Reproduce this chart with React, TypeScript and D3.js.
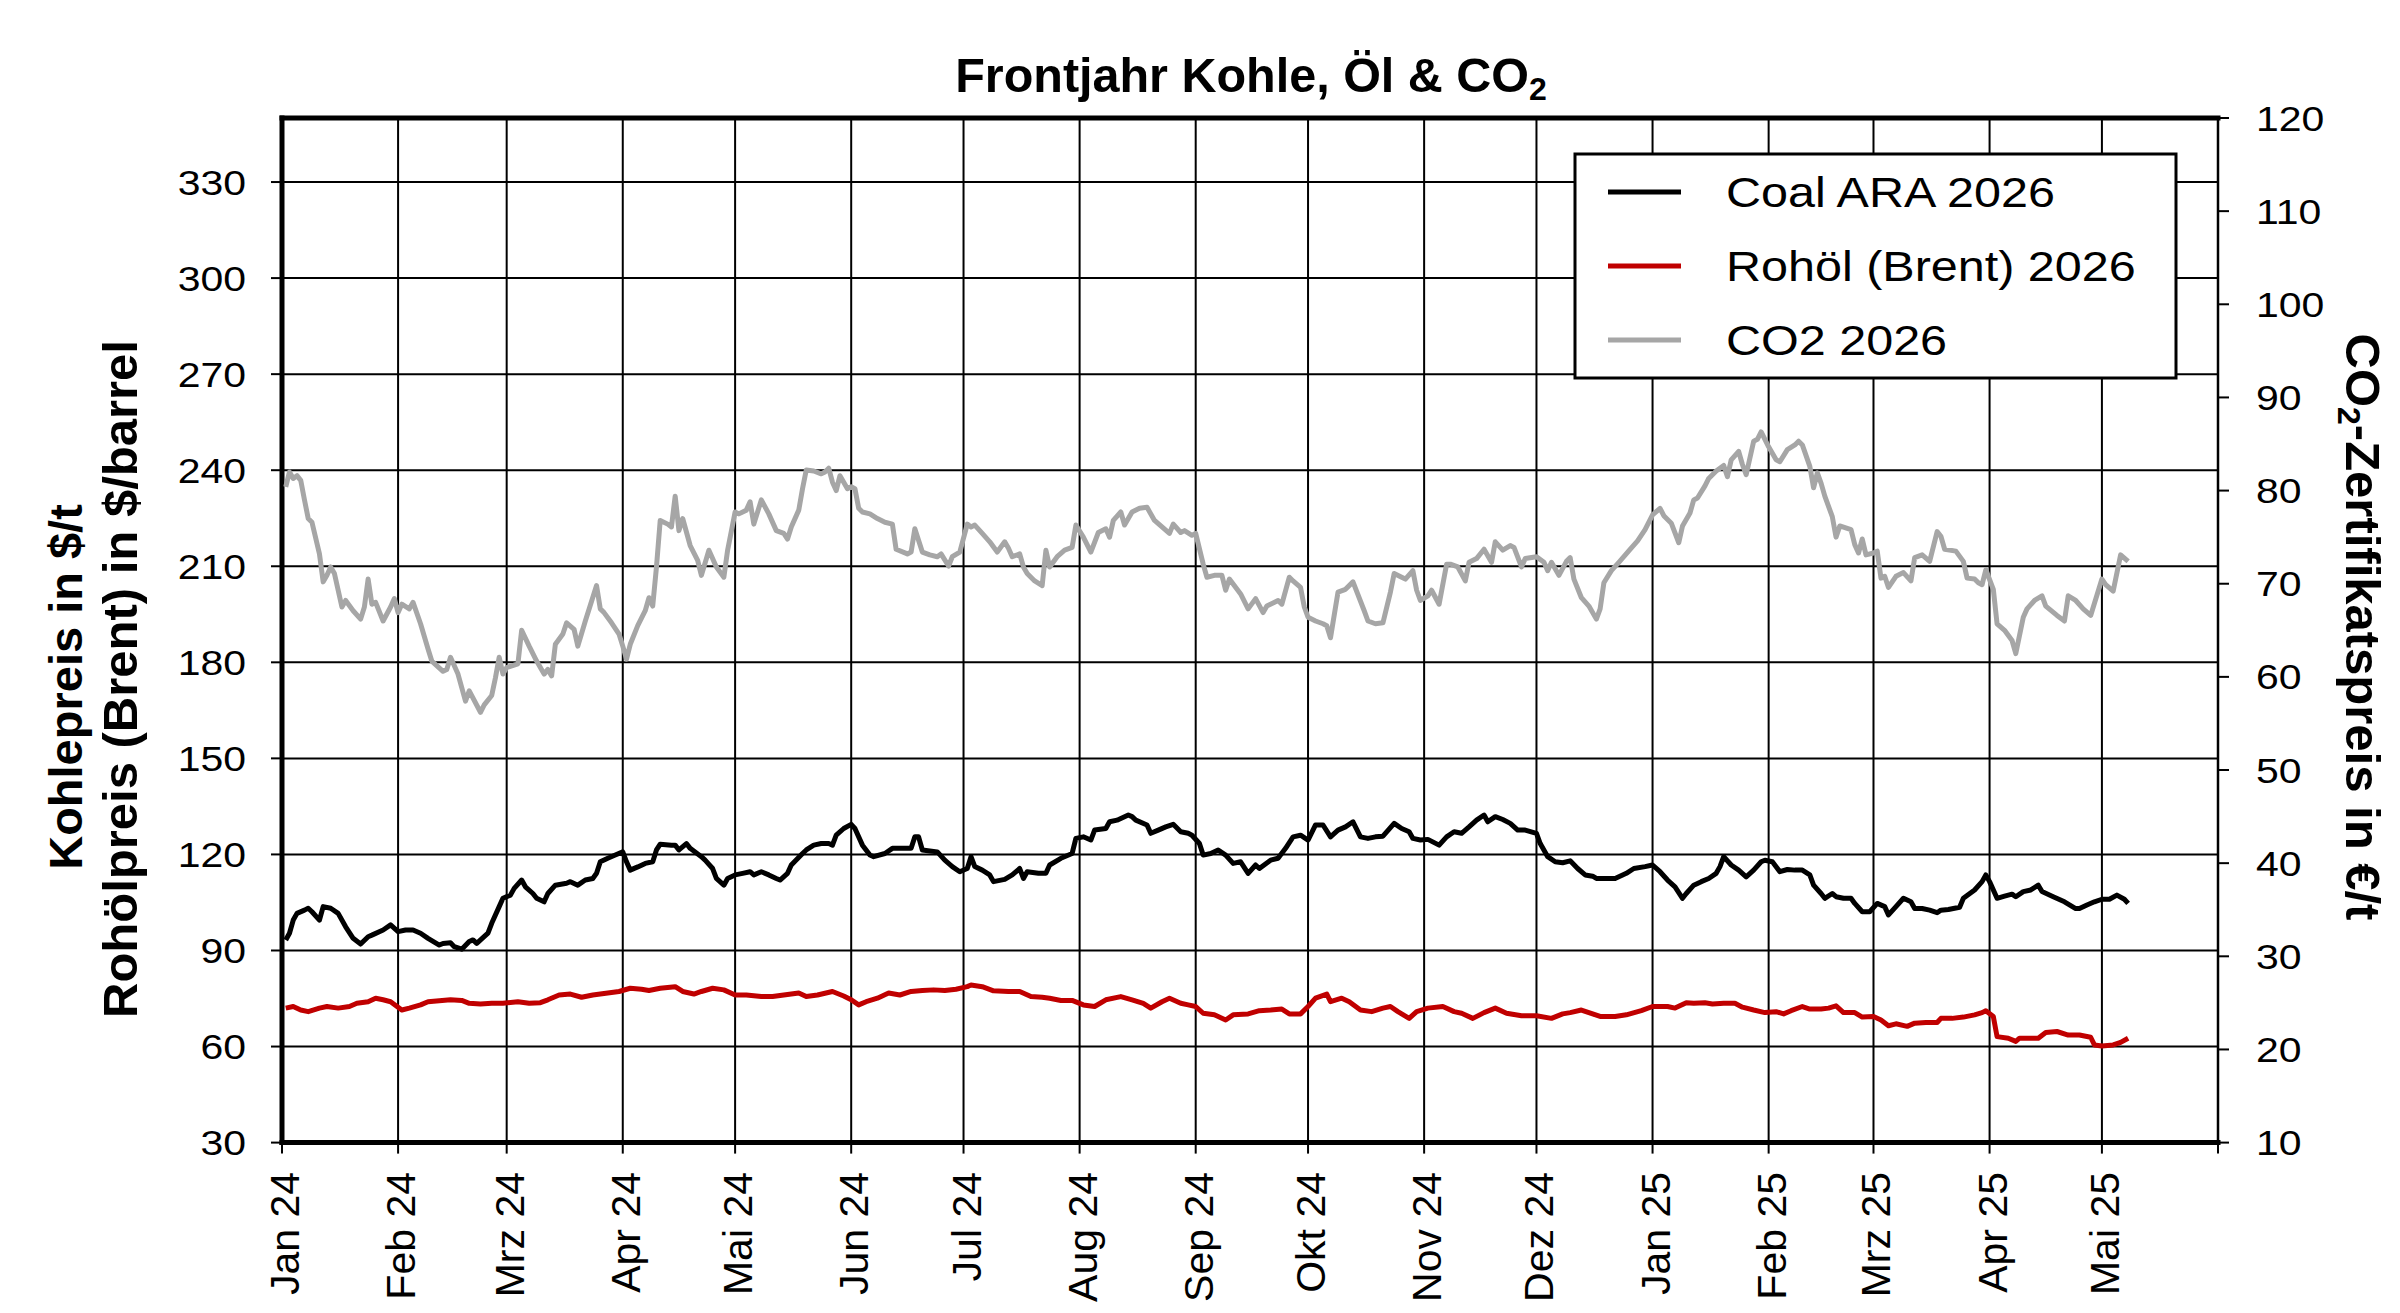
import { useEffect, useRef } from 'react';
import * as d3 from 'd3';

// Achsen & Beschriftungen
const monthLabels = [
  'Jan 24', 'Feb 24', 'Mrz 24', 'Apr 24', 'Mai 24', 'Jun 24', 'Jul 24', 'Aug 24', 'Sep 24',
  'Okt 24', 'Nov 24', 'Dez 24', 'Jan 25', 'Feb 25', 'Mrz 25', 'Apr 25', 'Mai 25', '',
];
const leftTicks = [30, 60, 90, 120, 150, 180, 210, 240, 270, 300, 330];
const rightTicks = [10, 20, 30, 40, 50, 60, 70, 80, 90, 100, 110, 120];
const seriesNames = ['Coal ARA 2026', 'Rohöl (Brent) 2026', 'CO2 2026'];

// [Tage seit 01.01.2024, Wert]
const coal: [number, number][] = [
  [1, 93.3], [2, 95.4], [3, 99.5], [4, 101.6], [6, 102.6], [7, 103.2], [8, 102.1], [10, 99.5], [11, 103.7], [13, 103.2],
  [15, 101.6], [17, 97.4], [19, 93.8], [21, 92.0], [23, 94.3], [24, 94.8], [27, 96.4], [29, 98.0], [31, 95.9], [33, 96.4],
  [35, 96.4], [37, 95.4], [39, 93.8], [42, 91.7], [43, 92.2], [45, 92.4], [46, 91.2], [48, 90.4], [50, 92.8], [51, 93.3],
  [52, 92.2], [55, 95.4], [56, 98.5], [58, 103.7], [59, 106.3], [61, 107.3], [62, 109.4], [64, 112.0], [65, 109.9], [67, 107.8],
  [68, 106.3], [70, 105.2], [71, 107.8], [73, 110.4], [76, 111.0], [77, 111.5], [79, 110.4], [81, 112.0], [83, 112.5], [84, 114.1],
  [85, 117.7], [87, 118.8], [89, 119.8], [91, 120.8], [92, 117.7], [93, 115.1], [95, 116.1], [97, 117.2], [99, 117.7], [100, 121.4],
  [101, 123.2], [104, 122.9], [105, 122.9], [106, 121.4], [108, 123.4], [109, 121.9], [112, 119.3], [113, 118.2], [115, 115.6], [116, 112.5],
  [118, 110.4], [119, 112.5], [121, 113.6], [123, 114.1], [125, 114.6], [126, 113.6], [128, 114.6], [130, 113.6], [132, 112.5], [133, 112.0],
  [135, 114.1], [136, 116.7], [139, 120.3], [140, 121.4], [142, 122.9], [144, 123.4], [146, 123.4], [147, 122.9], [148, 126.0], [150, 128.1],
  [152, 129.4], [153, 128.1], [155, 122.9], [157, 119.8], [158, 119.3], [161, 120.3], [163, 121.9], [165, 121.9], [166, 121.9], [168, 121.9],
  [169, 125.5], [170, 125.5], [171, 121.4], [173, 121.1], [175, 120.8], [177, 118.2], [179, 116.2], [181, 114.6], [183, 115.6], [184, 119.3],
  [185, 116.2], [187, 115.1], [189, 113.6], [190, 111.5], [193, 112.2], [195, 113.6], [197, 115.6], [198, 112.5], [199, 114.6], [202, 114.1],
  [204, 114.1], [205, 116.7], [208, 118.8], [211, 120.3], [212, 125.0], [214, 125.5], [216, 124.5], [217, 127.6], [220, 128.1], [221, 130.2],
  [223, 130.7], [226, 132.3], [227, 131.8], [228, 130.7], [231, 129.2], [232, 126.6], [234, 127.6], [236, 128.6], [238, 129.4], [240, 127.1],
  [242, 126.6], [243, 126.0], [245, 123.4], [246, 119.8], [248, 120.3], [250, 121.4], [252, 119.8], [254, 117.2], [256, 117.7], [258, 114.1],
  [260, 116.7], [261, 115.6], [264, 118.2], [266, 118.8], [268, 121.9], [270, 125.5], [272, 126.0], [274, 124.5], [276, 129.2], [278, 129.2],
  [280, 125.5], [282, 127.6], [284, 128.6], [286, 130.2], [288, 125.5], [290, 125.0], [292, 125.5], [294, 125.7], [297, 129.7], [299, 128.1],
  [301, 127.1], [302, 125.0], [304, 124.5], [306, 124.7], [309, 122.9], [311, 125.5], [313, 127.1], [315, 126.6], [317, 128.6], [319, 130.7],
  [321, 132.3], [322, 130.2], [324, 131.8], [326, 130.9], [328, 129.7], [330, 127.6], [332, 127.6], [335, 126.6], [336, 123.4], [338, 119.3],
  [340, 117.7], [342, 117.4], [344, 118.0], [346, 115.6], [348, 113.6], [350, 113.2], [351, 112.5], [354, 112.5], [356, 112.5], [359, 114.1],
  [361, 115.6], [364, 116.2], [366, 116.7], [368, 114.6], [370, 112.0], [372, 109.9], [374, 106.3], [375, 107.8], [377, 110.4], [379, 111.5],
  [381, 112.5], [383, 114.1], [384, 116.2], [385, 119.3], [387, 116.7], [389, 115.1], [391, 113.0], [393, 115.1], [395, 117.7], [396, 118.2],
  [398, 117.7], [400, 114.6], [402, 115.3], [404, 115.1], [406, 115.1], [408, 113.6], [409, 110.4], [411, 107.8], [412, 106.3], [414, 107.8],
  [415, 106.8], [417, 106.3], [419, 106.3], [420, 104.7], [422, 102.1], [424, 102.1], [426, 104.7], [428, 103.7], [429, 101.1], [431, 103.7],
  [433, 106.3], [435, 105.2], [436, 103.1], [438, 103.1], [440, 102.6], [442, 101.8], [443, 102.6], [445, 102.8], [448, 103.5], [449, 106.3],
  [452, 108.9], [454, 111.5], [455, 113.6], [456, 111.5], [458, 106.3], [460, 107.0], [462, 107.6], [463, 106.8], [465, 108.4], [467, 108.9],
  [469, 110.4], [470, 108.4], [473, 106.8], [476, 105.2], [479, 103.1], [480, 103.1], [482, 104.2], [484, 105.2], [486, 106.0], [488, 106.0],
  [490, 107.3], [492, 106.0], [493, 104.7],
];

const oil: [number, number][] = [
  [1, 72.0], [3, 72.5], [5, 71.4], [7, 70.9], [10, 72.0], [12, 72.5], [15, 72.0], [18, 72.5], [20, 73.5], [23, 74.0],
  [25, 75.1], [27, 74.6], [29, 74.0], [32, 71.4], [34, 72.0], [37, 73.0], [39, 74.0], [42, 74.3], [45, 74.6], [48, 74.4],
  [50, 73.5], [53, 73.3], [56, 73.5], [59, 73.5], [63, 74.0], [66, 73.5], [69, 73.7], [71, 74.6], [74, 76.1], [77, 76.4],
  [80, 75.4], [83, 76.1], [87, 76.7], [90, 77.2], [93, 78.2], [96, 77.9], [98, 77.5], [101, 78.2], [105, 78.7], [107, 77.2],
  [110, 76.4], [112, 77.2], [115, 78.2], [118, 77.7], [121, 76.1], [124, 76.1], [128, 75.6], [131, 75.6], [134, 76.1], [138, 76.7],
  [140, 75.6], [143, 76.1], [147, 77.2], [150, 75.8], [152, 74.6], [154, 73.0], [156, 74.0], [159, 75.1], [162, 76.7], [165, 76.1],
  [168, 77.2], [171, 77.5], [174, 77.7], [177, 77.5], [180, 77.9], [183, 78.7], [184, 79.2], [187, 78.7], [190, 77.4], [194, 77.2],
  [197, 77.2], [200, 75.6], [203, 75.4], [205, 75.1], [208, 74.4], [211, 74.4], [214, 73.0], [217, 72.5], [220, 74.6], [224, 75.6],
  [227, 74.6], [230, 73.5], [232, 72.0], [235, 74.0], [237, 75.1], [240, 73.5], [242, 73.0], [244, 72.5], [246, 70.4], [249, 69.9],
  [252, 68.3], [254, 69.9], [258, 70.2], [261, 71.2], [264, 71.4], [267, 71.7], [269, 70.2], [272, 70.2], [274, 72.5], [276, 75.1],
  [279, 76.4], [280, 74.0], [283, 75.1], [285, 74.0], [288, 71.4], [291, 70.9], [294, 72.0], [296, 72.5], [298, 70.9], [301, 68.8],
  [303, 70.9], [306, 72.0], [310, 72.5], [313, 70.9], [315, 70.4], [318, 68.8], [321, 70.6], [324, 72.0], [327, 70.4], [331, 69.6],
  [335, 69.6], [339, 68.8], [342, 70.2], [344, 70.6], [347, 71.4], [349, 70.6], [352, 69.4], [356, 69.4], [359, 69.9], [363, 71.2],
  [366, 72.5], [370, 72.5], [372, 72.0], [375, 73.7], [377, 73.5], [380, 73.7], [382, 73.3], [385, 73.5], [388, 73.5], [390, 72.3],
  [393, 71.4], [396, 70.6], [399, 70.9], [401, 70.2], [403, 71.2], [406, 72.5], [408, 71.7], [411, 71.7], [413, 72.0], [415, 72.7],
  [417, 70.6], [420, 70.6], [422, 69.2], [425, 69.4], [427, 68.3], [429, 66.5], [431, 67.1], [434, 66.3], [436, 67.3], [439, 67.5],
  [442, 67.5], [443, 68.8], [446, 68.8], [449, 69.2], [452, 69.9], [454, 70.6], [455, 71.2], [457, 69.4], [458, 63.1], [461, 62.6],
  [463, 61.6], [464, 62.6], [466, 62.6], [469, 62.6], [471, 64.4], [474, 64.7], [477, 63.6], [480, 63.6], [483, 62.9], [484, 60.5],
  [486, 60.2], [489, 60.5], [491, 61.3], [493, 62.6],
];

const co2: [number, number][] = [
  [1, 80.4], [2, 82.0], [3, 81.3], [4, 81.6], [5, 81.1], [6, 79.0], [7, 77.0], [8, 76.6], [10, 73.2], [11, 70.2],
  [12, 70.9], [13, 71.8], [14, 71.1], [16, 67.5], [17, 68.2], [19, 67.1], [21, 66.2], [22, 67.5], [23, 70.5], [24, 67.8],
  [25, 68.0], [27, 66.0], [29, 67.5], [30, 68.4], [31, 66.9], [32, 67.8], [34, 67.3], [35, 68.0], [37, 65.7], [39, 63.0],
  [40, 61.7], [43, 60.6], [44, 60.8], [45, 62.1], [47, 60.3], [49, 57.4], [50, 58.5], [53, 56.2], [54, 57.0], [56, 58.0],
  [57, 59.9], [58, 62.1], [59, 60.3], [60, 61.0], [63, 61.4], [64, 65.0], [66, 63.3], [68, 61.7], [70, 60.3], [71, 60.8],
  [72, 60.1], [73, 63.5], [75, 64.6], [76, 65.8], [78, 65.1], [79, 63.3], [81, 66.0], [84, 69.8], [85, 67.3], [86, 66.9],
  [88, 65.8], [90, 64.6], [91, 63.3], [92, 61.9], [93, 63.5], [95, 65.5], [97, 67.1], [98, 68.5], [99, 67.6], [100, 71.8],
  [101, 76.8], [103, 76.4], [104, 76.1], [105, 79.4], [106, 75.7], [107, 77.0], [109, 74.1], [111, 72.5], [112, 70.9], [114, 73.6],
  [116, 71.8], [118, 70.7], [119, 73.6], [121, 77.7], [122, 77.5], [124, 77.9], [125, 78.8], [126, 76.4], [128, 79.0], [130, 77.5],
  [132, 75.7], [134, 75.4], [135, 74.8], [136, 76.1], [138, 77.9], [139, 80.2], [140, 82.2], [142, 82.1], [144, 81.8], [145, 82.0],
  [146, 82.4], [147, 80.9], [148, 80.0], [149, 81.6], [151, 80.2], [152, 80.4], [153, 80.2], [154, 78.1], [155, 77.7], [157, 77.5],
  [159, 77.0], [161, 76.6], [163, 76.4], [164, 73.7], [167, 73.2], [168, 73.4], [169, 75.9], [171, 73.4], [173, 73.1], [175, 72.9],
  [176, 73.2], [178, 71.9], [179, 72.9], [181, 73.4], [183, 76.4], [184, 76.1], [185, 76.3], [187, 75.4], [189, 74.5], [191, 73.4],
  [193, 74.5], [194, 73.8], [195, 72.9], [197, 73.2], [198, 71.8], [199, 71.1], [201, 70.3], [203, 69.8], [204, 73.6], [205, 71.8],
  [207, 72.9], [209, 73.6], [211, 73.9], [212, 76.3], [214, 75.0], [216, 73.4], [218, 75.5], [220, 75.9], [221, 75.0], [222, 76.8],
  [224, 77.7], [225, 76.3], [226, 77.0], [227, 77.7], [229, 78.1], [231, 78.2], [233, 76.8], [235, 76.1], [237, 75.4], [238, 76.4],
  [240, 75.5], [241, 75.7], [243, 75.2], [244, 75.4], [246, 72.1], [247, 70.7], [249, 70.9], [251, 70.9], [252, 69.3], [253, 70.5],
  [256, 68.9], [258, 67.3], [260, 68.4], [262, 66.9], [263, 67.6], [266, 68.2], [267, 67.8], [269, 70.7], [270, 70.3], [272, 69.6],
  [273, 67.5], [274, 66.4], [276, 66.0], [278, 65.7], [279, 65.5], [280, 64.2], [282, 69.1], [284, 69.4], [286, 70.2], [289, 67.1],
  [290, 66.0], [292, 65.7], [294, 65.8], [296, 69.1], [297, 71.1], [299, 70.7], [300, 70.5], [302, 71.4], [303, 69.3], [304, 68.2],
  [306, 68.7], [307, 69.3], [309, 67.8], [311, 72.1], [312, 72.1], [314, 71.8], [316, 70.3], [317, 72.3], [319, 72.7], [321, 73.7],
  [323, 72.3], [324, 74.5], [326, 73.6], [328, 74.1], [329, 73.9], [331, 71.8], [332, 72.7], [335, 72.9], [337, 72.3], [338, 71.4],
  [339, 72.3], [341, 70.9], [343, 72.4], [344, 72.8], [345, 70.5], [347, 68.5], [349, 67.6], [351, 66.2], [352, 67.3], [353, 70.1],
  [355, 71.4], [357, 72.3], [360, 73.7], [362, 74.6], [364, 75.8], [366, 77.4], [368, 78.1], [369, 77.3], [371, 76.5], [373, 74.4],
  [374, 76.2], [376, 77.6], [377, 79.0], [378, 79.2], [380, 80.5], [381, 81.3], [383, 82.1], [385, 82.7], [386, 81.5], [387, 83.3],
  [389, 84.2], [390, 82.8], [391, 81.7], [393, 85.3], [394, 85.5], [395, 86.3], [397, 84.7], [399, 83.3], [400, 83.1], [402, 84.4],
  [404, 84.9], [405, 85.3], [406, 84.9], [408, 82.6], [409, 80.3], [410, 81.9], [411, 80.8], [412, 79.4], [414, 77.2], [415, 75.0],
  [416, 76.2], [419, 75.8], [420, 74.2], [421, 73.3], [422, 74.8], [423, 73.1], [425, 73.3], [426, 73.5], [427, 70.6], [428, 70.8],
  [429, 69.6], [431, 70.8], [433, 71.2], [435, 70.3], [436, 72.8], [438, 73.1], [440, 72.4], [442, 75.6], [443, 75.1], [444, 73.7],
  [447, 73.5], [449, 72.4], [450, 70.6], [452, 70.5], [453, 70.1], [454, 69.9], [455, 71.5], [457, 69.4], [458, 65.7], [460, 65.0],
  [462, 63.9], [463, 62.5], [465, 66.4], [466, 67.3], [468, 68.2], [470, 68.7], [471, 67.6], [474, 66.6], [476, 66.0], [477, 68.7],
  [479, 68.2], [481, 67.3], [483, 66.6], [486, 70.5], [487, 69.9], [489, 69.2], [491, 73.1], [493, 72.4],
];

const FONT = "'Liberation Sans', Arial, sans-serif";
const start = new Date(2024, 0, 1);
const end = new Date(2025, 5, 1);
const toDate = (d: number) => d3.timeDay.offset(start, d);

export default function App() {
  const svgRef = useRef<SVGSVGElement>(null);

  useEffect(() => {
    if (!svgRef.current) return;
    const svg = d3.select(svgRef.current);
    svg.selectAll('*').remove();

    const width = 2400;
    const height = 1313;
    const plot = { left: 282, right: 2218, top: 118, bottom: 1142.6 };

    svg.append('rect').attr('width', width).attr('height', height).attr('fill', '#fff');

    const x = d3.scaleTime().domain([start, end]).range([plot.left, plot.right]);
    const yLeft = d3.scaleLinear().domain([30, 350]).range([plot.bottom, plot.top]);
    const yRight = d3.scaleLinear().domain([10, 120]).range([plot.bottom, plot.top]);
    const months = d3.timeMonth.range(start, d3.timeDay.offset(end, 1));

    // Gitter
    const grid = svg.append('g').attr('stroke', '#000').attr('stroke-width', 2);
    grid.selectAll('.hg')
      .data(leftTicks.filter((t) => t > 30))
      .join('line')
      .attr('x1', plot.left).attr('x2', plot.right)
      .attr('y1', (d) => yLeft(d)).attr('y2', (d) => yLeft(d));
    grid.selectAll('.vg')
      .data(months.slice(1, -1))
      .join('line')
      .attr('x1', (d) => x(d)).attr('x2', (d) => x(d))
      .attr('y1', plot.top).attr('y2', plot.bottom);

    // Tickmarks
    const ticks = svg.append('g').attr('stroke', '#000').attr('stroke-width', 2);
    ticks.selectAll('.lt').data(leftTicks).join('line')
      .attr('x1', plot.left - 11).attr('x2', plot.left)
      .attr('y1', (d) => yLeft(d)).attr('y2', (d) => yLeft(d));
    ticks.selectAll('.rt').data(rightTicks).join('line')
      .attr('x1', plot.right).attr('x2', plot.right + 11)
      .attr('y1', (d) => yRight(d)).attr('y2', (d) => yRight(d));
    ticks.selectAll('.xt').data(months).join('line')
      .attr('x1', (d) => x(d)).attr('x2', (d) => x(d))
      .attr('y1', plot.bottom).attr('y2', plot.bottom + 11);

    // Rahmen
    const frame = svg.append('g').attr('stroke', '#000').attr('stroke-linecap', 'square');
    frame.append('line').attr('x1', plot.left).attr('x2', plot.right)
      .attr('y1', plot.top).attr('y2', plot.top).attr('stroke-width', 5);
    frame.append('line').attr('x1', plot.left).attr('x2', plot.right)
      .attr('y1', plot.bottom).attr('y2', plot.bottom).attr('stroke-width', 5);
    frame.append('line').attr('x1', plot.left).attr('x2', plot.left)
      .attr('y1', plot.top).attr('y2', plot.bottom).attr('stroke-width', 5);
    frame.append('line').attr('x1', plot.right).attr('x2', plot.right)
      .attr('y1', plot.top).attr('y2', plot.bottom).attr('stroke-width', 2.5);

    // Achsenbeschriftung
    svg.append('g').selectAll('text').data(leftTicks).join('text')
      .attr('transform', (d) => `translate(246,${yLeft(d)}) scale(1.17,1)`)
      .attr('dy', '0.36em').attr('text-anchor', 'end')
      .style('font-family', FONT).style('font-size', '35px').attr('fill', '#000')
      .text((d) => d);
    svg.append('g').selectAll('text').data(rightTicks).join('text')
      .attr('transform', (d) => `translate(2256,${yRight(d)}) scale(1.17,1)`)
      .attr('dy', '0.36em').attr('text-anchor', 'start')
      .style('font-family', FONT).style('font-size', '35px').attr('fill', '#000')
      .text((d) => d);
    svg.append('g').selectAll('text').data(months).join('text')
      .attr('transform', (d) => `translate(${x(d) + 17},1172) rotate(-90)`)
      .attr('text-anchor', 'end')
      .style('font-family', FONT).style('font-size', '41px').attr('fill', '#000')
      .text((d, i) => monthLabels[i] ?? '');

    // Linien
    const line = d3.line<[number, number]>().x((d) => x(toDate(d[0])));
    const series = [
      { data: co2, y: yRight, color: '#a6a6a6' },
      { data: oil, y: yLeft, color: '#c00000' },
      { data: coal, y: yLeft, color: '#000000' },
    ];
    series.forEach((s) => {
      svg.append('path')
        .datum(s.data)
        .attr('fill', 'none')
        .attr('stroke', s.color)
        .attr('stroke-width', 5)
        .attr('stroke-linejoin', 'round')
        .attr('d', line.y((d) => s.y(d[1]))(s.data));
    });

    // Legende
    const legend = svg.append('g');
    legend.append('rect')
      .attr('x', 1575).attr('y', 154).attr('width', 601).attr('height', 224)
      .attr('fill', '#fff').attr('stroke', '#000').attr('stroke-width', 3);
    const legendColors = ['#000000', '#c00000', '#a6a6a6'];
    seriesNames.forEach((name, i) => {
      const cy = 192 + i * 74;
      legend.append('line')
        .attr('x1', 1608).attr('x2', 1681).attr('y1', cy).attr('y2', cy)
        .attr('stroke', legendColors[i]).attr('stroke-width', 5);
      legend.append('text')
        .attr('transform', `translate(1726,${cy + 15}) scale(1.155,1)`)
        .style('font-family', FONT).style('font-size', '42px').attr('fill', '#000')
        .text(name);
    });

    // Titel
    const title = svg.append('text')
      .attr('x', 1251).attr('y', 92).attr('text-anchor', 'middle')
      .style('font-family', FONT).style('font-size', '48.5px').style('font-weight', 'bold');
    title.append('tspan').text('Frontjahr Kohle, Öl & CO');
    title.append('tspan').attr('dy', 8).style('font-size', '32px').text('2');

    // Achsentitel links
    const leftTitle = svg.append('g').style('font-family', FONT).style('font-weight', 'bold');
    leftTitle.append('text')
      .attr('transform', 'translate(82,687) rotate(-90)').attr('text-anchor', 'middle')
      .style('font-size', '47px')
      .text('Kohlepreis in $/t');
    leftTitle.append('text')
      .attr('transform', 'translate(137,679) rotate(-90)').attr('text-anchor', 'middle')
      .style('font-size', '49px')
      .text('Rohölpreis (Brent) in $/barrel');

    // Achsentitel rechts
    const rightTitle = svg.append('text')
      .attr('transform', 'translate(2346,627) rotate(90)').attr('text-anchor', 'middle')
      .style('font-family', FONT).style('font-size', '49px').style('font-weight', 'bold');
    rightTitle.append('tspan').text('CO');
    rightTitle.append('tspan').attr('dy', 8).style('font-size', '32px').text('2');
    rightTitle.append('tspan').attr('dy', -8).text('-Zertifikatspreis in €/t');
  }, []);

  return (
    <div style={{ position: 'absolute', left: 0, top: 0 }}>
      <svg ref={svgRef} width={2400} height={1313} style={{ display: 'block' }}></svg>
    </div>
  );
}
